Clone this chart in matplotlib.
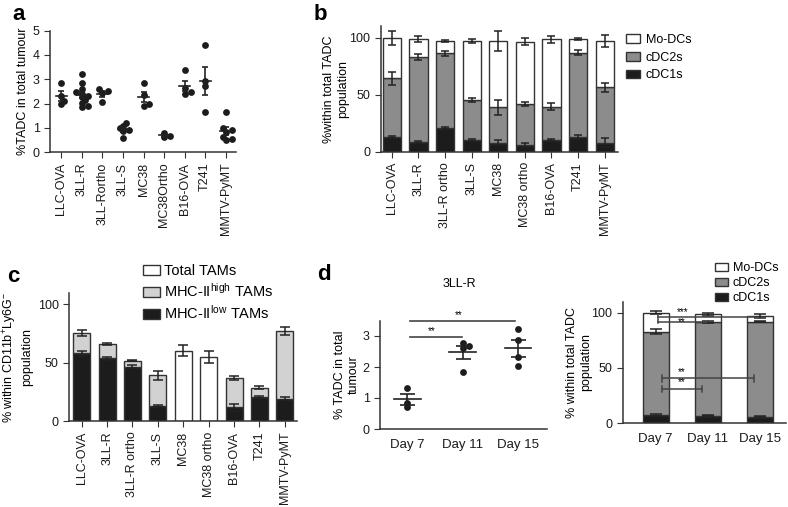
import numpy as np
import matplotlib
matplotlib.use('Agg')
import matplotlib.pyplot as plt
from matplotlib.patches import Patch

plt.rcParams['font.family'] = ['Liberation Sans', 'DejaVu Sans']
plt.rcParams['font.size'] = 9
plt.rcParams['mathtext.fontset'] = 'custom'
plt.rcParams['mathtext.rm'] = 'Liberation Sans'
plt.rcParams['mathtext.it'] = 'Liberation Sans:italic'
plt.rcParams['axes.linewidth'] = 1.1
plt.rcParams['axes.edgecolor'] = '#333333'
plt.rcParams['xtick.major.size'] = 4
plt.rcParams['ytick.major.size'] = 4
plt.rcParams['xtick.color'] = '#333333'
plt.rcParams['ytick.color'] = '#333333'
plt.rcParams['xtick.labelcolor'] = '#1a1a1a'
plt.rcParams['ytick.labelcolor'] = '#1a1a1a'

# ---- data ----
# a: %TADC in total tumour (individual mice)
a_names = ['LLC-OVA', '3LL-R', '3LL-Rortho', '3LL-S', 'MC38', 'MC38Ortho',
           'B16-OVA', 'T241', 'MMTV-PyMT']
a_llc_ova = [2.84, 2.32, 2.1, 1.98]
a_3llr = [3.22, 2.85, 2.6, 2.48, 2.41, 2.33, 2.25, 2.14, 2.03, 1.92, 1.84]
a_3llr_ortho = [2.58, 2.51, 2.44, 2.05]
a_3lls = [1.21, 1.08, 0.98, 0.91, 0.87, 0.57]
a_mc38 = [2.86, 2.35, 2.0, 1.91]
a_mc38_ortho = [0.8, 0.67, 0.61]
a_b16_ova = [3.38, 2.62, 2.48, 2.41]
a_t241 = [4.39, 2.92, 2.73, 1.65]
a_mmtv = [1.66, 0.98, 0.91, 0.85, 0.64, 0.55, 0.5]

# b: TADC subsets (% within total TADC)
b_names = ['LLC-OVA', '3LL-R', '3LL-R ortho', '3LL-S', 'MC38', 'MC38 ortho',
           'B16-OVA', 'T241', 'MMTV-PyMT']
b_cdc1 = [12.6, 8.8, 21.0, 10.2, 7.9, 6.0, 10.2, 13.0, 8.0]
b_cdc2 = [51.7, 74.5, 65.3, 35.1, 31.0, 35.8, 29.3, 73.8, 48.5]
b_modc = [35.7, 15.7, 10.7, 51.7, 58.1, 54.7, 59.0, 12.0, 40.5]
b_err_cdc1 = [1, 1, 1, 1, 2, 2, 1, 1.5, 4]
b_err_cdc2 = [5.5, 2.5, 2, 1.5, 6.5, 2, 3, 2, 4]
b_err_tot = [6, 2.5, 1, 2, 9, 3, 3, 1, 5]

# c: TAMs (% within CD11b+Ly6G- population)
c_names = b_names
c_low = [58.1, 53.8, 46.7, 13.1, np.nan, np.nan, 12.0, 21.0, 19.4]
c_total = [75.2, 66.1, 51.9, 39.3, 60.4, 54.7, 37.0, 28.8, 77.5]
c_err_low = [2, 1.5, 1, 1, np.nan, np.nan, 3, 1, 1.5]
c_err_total = [2.5, 1, 0.7, 4, 4.5, 5, 2, 1.5, 3.5]

# d: 3LL-R time course
d_days = ['Day 7', 'Day 11', 'Day 15']
d_day7 = [1.31, 0.85, 0.7]
d_day11 = [2.76, 2.68, 2.62, 1.84]
d_day15 = [3.23, 2.87, 2.31, 2.02]
d_cdc1 = [7.5, 6.9, 6.0]
d_cdc2 = [75.3, 84.6, 85.9]
d_modc = [17.2, 7.0, 5.1]
d_err_cdc1 = [0.5, 0.5, 0.5]
d_err_cdc2 = [2, 1, 0.5]
d_err_tot = [1.5, 1.5, 2]

BLACK = '#1c1c1c'
GRAY = '#8c8c8c'
LIGHT = '#d2d2d2'
EDGE = '#333333'

W, H = 788, 507
fig = plt.figure(figsize=(W / 100, H / 100), dpi=100)


def box(l, r, t, b):
    return [l / W, 1 - b / H, (r - l) / W, (b - t) / H]


def swarm(vals, xs, ys, d=6.0):
    # beeswarm offsets (data x units), dots allowed to touch a little
    vals = np.asarray(vals)
    offs = np.zeros(len(vals))
    placed = []
    for k in np.argsort(vals):
        y = vals[k] * ys
        for step in [0, 1, -1, 2, -2, 3, -3]:
            x = step * d * 0.5
            if all((x - px) ** 2 + (y - py) ** 2 >= (0.62 * d) ** 2 for px, py in placed):
                break
        placed.append((x, y))
        offs[k] = x / xs
    return offs


def clean(ax):
    ax.spines['top'].set_visible(False)
    ax.spines['right'].set_visible(False)


def dots(ax, groups, xs, ys, half, cap):
    for i, v in enumerate(groups):
        v = np.asarray(v)
        ax.scatter(i + swarm(v, xs, ys), v, s=24, color=BLACK, linewidths=0, zorder=3)
        m = v.mean()
        se = v.std(ddof=1) / np.sqrt(len(v))
        ax.plot([i - half, i + half], [m, m], color='#222222', lw=1.2, zorder=4)
        ax.errorbar(i, m, yerr=se, fmt='none', ecolor='#222222', elinewidth=1.2,
                    capsize=cap, capthick=1.2, zorder=4)


# ---- panel a ----
ax = fig.add_axes(box(50, 236, 30.5, 152.3))
clean(ax)
a_groups = [a_llc_ova, a_3llr, a_3llr_ortho, a_3lls, a_mc38, a_mc38_ortho,
            a_b16_ova, a_t241, a_mmtv]
dots(ax, a_groups, 20.6, 24.4, 0.26, 2.2)
ax.set_xlim(-0.55, 8.5)
ax.set_ylim(0, 5)
ax.set_yticks([0, 1, 2, 3, 4, 5])
ax.set_xticks(range(9))
ax.set_xticklabels(a_names, rotation=90)
ax.set_ylabel('%TADC in total tumour')
ax.yaxis.set_label_coords(-0.115, 0.5)

# ---- panel b ----
ax = fig.add_axes(box(380.7, 618, 26.3, 151.7))
clean(ax)
x = np.arange(9)
c1 = np.array(b_cdc1)
c2 = c1 + np.array(b_cdc2)
tot = c2 + np.array(b_modc)
ax.bar(x, b_cdc1, 0.68, color=BLACK, edgecolor=EDGE, lw=1)
ax.bar(x, b_cdc2, 0.68, bottom=c1, color=GRAY, edgecolor=EDGE, lw=1)
ax.bar(x, b_modc, 0.68, bottom=c2, color='white', edgecolor=EDGE, lw=1)
for yv, ev in [(c1, b_err_cdc1), (c2, b_err_cdc2), (tot, b_err_tot)]:
    ax.errorbar(x, yv, yerr=ev, fmt='none', ecolor='#222222', elinewidth=1.1,
                capsize=3.2, capthick=1.1)
ax.set_xlim(-0.42, 8.5)
ax.set_ylim(0, 110)
ax.set_yticks([0, 50, 100])
ax.set_xticks(x)
ax.set_xticklabels(b_names, rotation=90)
ax.set_ylabel('%within total TADC\npopulation')
ax.yaxis.set_label_coords(-0.135, 0.5)

fig.legend(handles=[Patch(fc='white', ec=EDGE, label='Mo-DCs'),
                    Patch(fc=GRAY, ec=EDGE, label='cDC2s'),
                    Patch(fc=BLACK, ec=EDGE, label='cDC1s')],
           loc='upper left', bbox_to_anchor=(626 / W, 1 - 34 / H), frameon=False,
           borderpad=0, borderaxespad=0, handlelength=1.1, handleheight=0.7,
           handletextpad=0.5, labelspacing=0.45, fontsize=9)

# ---- panel c ----
ax = fig.add_axes(box(69, 297, 292.6, 421.3))
clean(ax)
low = np.array(c_low)
total = np.array(c_total)
split = ~np.isnan(low)
ax.bar(x[split], low[split], 0.67, color=BLACK, edgecolor=EDGE, lw=1)
ax.bar(x[split], (total - low)[split], 0.67, bottom=low[split], color=LIGHT,
       edgecolor=EDGE, lw=1)
ax.bar(x[~split], total[~split], 0.67, color='white', edgecolor=EDGE, lw=1)
ax.errorbar(x[split], low[split], yerr=np.array(c_err_low)[split], fmt='none',
            ecolor='#222222', elinewidth=1.1, capsize=3.6, capthick=1.1)
ax.errorbar(x, total, yerr=c_err_total, fmt='none', ecolor='#222222',
            elinewidth=1.1, capsize=3.6, capthick=1.1)
ax.set_xlim(-0.5, 8.48)
ax.set_ylim(0, 110)
ax.set_yticks([0, 50, 100])
ax.set_xticks(x)
ax.set_xticklabels(c_names, rotation=90)
ax.set_ylabel('% within CD11b$^{+}$Ly6G$^{-}$\npopulation')
ax.yaxis.set_label_coords(-0.158, 0.5)

fig.legend(handles=[Patch(fc='white', ec=EDGE, label='Total TAMs'),
                    Patch(fc=LIGHT, ec=EDGE, label='MHC-II$^{\\mathrm{high}}$ TAMs'),
                    Patch(fc=BLACK, ec=EDGE, label='MHC-II$^{\\mathrm{low}}$ TAMs')],
           loc='upper left', bbox_to_anchor=(143 / W, 1 - 264 / H), frameon=False,
           borderpad=0, borderaxespad=0, handlelength=1.15, handleheight=0.7,
           handletextpad=0.3, labelspacing=0.28, fontsize=10.5)

# ---- panel d (left) ----
ax = fig.add_axes(box(380, 547, 320.5, 429))
clean(ax)
dots(ax, [d_day7, d_day11, d_day15], 55.5, 31, 0.24, 5.4)
ax.set_xlim(-0.49, 2.52)
ax.set_ylim(0, 3.5)
ax.set_yticks([0, 1, 2, 3])
ax.set_xticks(range(3))
ax.set_xticklabels(d_days, fontsize=9.5)
ax.tick_params(axis='x', length=0, pad=7)
ax.set_ylabel('% TADC in total\ntumour')
ax.yaxis.set_label_coords(-0.12, 0.5)
fig.text(459 / W, 1 - 284 / H, '3LL-R', ha='center', va='center', fontsize=9)
ax.plot([0.05, 0.98], [2.98, 2.98], color='#444444', lw=1.2)
ax.text(0.44, 3.0, '**', ha='center', va='bottom', fontsize=7)
ax.plot([0.05, 1.95], [3.5, 3.5], color='#444444', lw=1.2, clip_on=False)
ax.text(0.92, 3.52, '**', ha='center', va='bottom', fontsize=7, clip_on=False)

# ---- panel d (right) ----
ax = fig.add_axes(box(622.7, 786, 301.6, 423.3))
clean(ax)
x3 = np.arange(3)
d1 = np.array(d_cdc1)
d2 = d1 + np.array(d_cdc2)
dt = d2 + np.array(d_modc)
ax.bar(x3, d_cdc1, 0.5, color=BLACK, edgecolor=EDGE, lw=1)
ax.bar(x3, d_cdc2, 0.5, bottom=d1, color=GRAY, edgecolor=EDGE, lw=1)
ax.bar(x3, d_modc, 0.5, bottom=d2, color='white', edgecolor=EDGE, lw=1)
for yv, ev in [(d1, d_err_cdc1), (d2, d_err_cdc2), (dt, d_err_tot)]:
    ax.errorbar(x3, yv, yerr=ev, fmt='none', ecolor='#222222', elinewidth=1.1,
                capsize=4.5, capthick=1.1)
sig = '#444444'
ax.plot([0.04, 0.04], [91, 97.5], color=sig, lw=1.1)
ax.plot([0.04, 1.87], [96.4, 96.4], color=sig, lw=1.1)
ax.plot([0.04, 0.99], [91.9, 91.9], color=sig, lw=1.1)
ax.text(0.52, 100.5, '***', ha='center', va='center', fontsize=7, clip_on=False)
ax.text(0.5, 91.5, '**', ha='center', va='center', fontsize=7)
for x0, x1, yy in [(0.13, 1.87, 40.7), (0.13, 0.89, 31)]:
    ax.plot([x0, x1], [yy, yy], color=sig, lw=1.1)
    ax.plot([x0, x0], [yy - 3, yy + 3], color=sig, lw=1.1)
    ax.plot([x1, x1], [yy - 3, yy + 3], color=sig, lw=1.1)
    ax.text(0.5, yy + 1.5, '**', ha='center', va='bottom', fontsize=7)
ax.set_xlim(-0.63, 2.49)
ax.set_ylim(0, 110)
ax.set_yticks([0, 50, 100])
ax.set_xticks(x3)
ax.set_xticklabels(d_days, fontsize=9.5)
ax.tick_params(axis='x', length=0, pad=7)
ax.set_ylabel('% within total TADC\npopulation')
ax.yaxis.set_label_coords(-0.19, 0.5)

fig.legend(handles=[Patch(fc='white', ec=EDGE, label='Mo-DCs'),
                    Patch(fc=GRAY, ec=EDGE, label='cDC2s'),
                    Patch(fc=BLACK, ec=EDGE, label='cDC1s')],
           loc='upper left', bbox_to_anchor=(715 / W, 1 - 262 / H), frameon=False,
           borderpad=0, borderaxespad=0, handlelength=1.0, handleheight=0.6,
           handletextpad=0.4, labelspacing=0.25, fontsize=9)

# panel letters
for lab, px, py in [('a', 12, 20), ('b', 314, 20), ('c', 7, 282), ('d', 317, 280)]:
    fig.text(px / W, 1 - py / H, lab, fontsize=16, fontweight='bold', va='baseline')

fig.savefig('out.png', dpi=100)
